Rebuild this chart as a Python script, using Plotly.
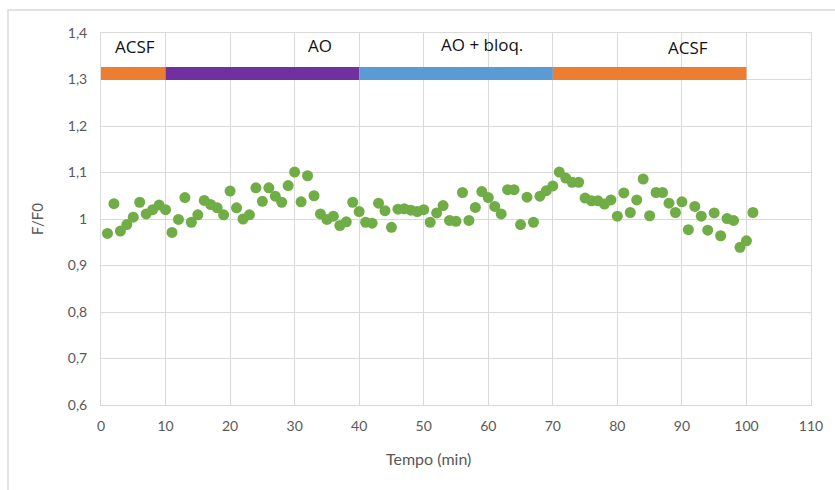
import plotly.graph_objects as go

tempo = list(range(1, 102))
ff0 = [0.969, 1.033, 0.974, 0.988, 1.004, 1.036, 1.011, 1.020, 1.030, 1.020,
       0.971, 0.999, 1.046, 0.993, 1.009, 1.040, 1.031, 1.024, 1.009, 1.060,
       1.024, 1.000, 1.009, 1.067, 1.038, 1.067, 1.049, 1.036, 1.072, 1.101,
       1.037, 1.093, 1.050, 1.011, 0.999, 1.006, 0.986, 0.994, 1.036, 1.016,
       0.993, 0.991, 1.034, 1.018, 0.982, 1.021, 1.022, 1.019, 1.016, 1.020,
       0.993, 1.013, 1.029, 0.997, 0.995, 1.057, 0.997, 1.025, 1.059, 1.046,
       1.027, 1.011, 1.063, 1.063, 0.988, 1.047, 0.993, 1.049, 1.061, 1.071,
       1.101, 1.088, 1.079, 1.079, 1.045, 1.039, 1.039, 1.032, 1.041, 1.006,
       1.056, 1.014, 1.041, 1.086, 1.007, 1.057, 1.057, 1.034, 1.014, 1.037,
       0.977, 1.027, 1.006, 0.976, 1.013, 0.964, 1.001, 0.997, 0.939, 0.953,
       1.014]

phase_labels = ["ACSF", "AO", "AO + bloq.", "ACSF"]
phase_start = [0, 10, 40, 70]
phase_end = [10, 40, 70, 100]
phase_colors = ["#ED7D31", "#7030A0", "#5B9BD5", "#ED7D31"]
phase_bar_y = 1.313
label_x = [5.2, 34, 59, 91]
label_y = [1.371, 1.373, 1.376, 1.369]

font_family = "Lato, 'Open Sans', sans-serif"

fig = go.Figure()

for s, e, c in zip(phase_start, phase_end, phase_colors):
    fig.add_trace(go.Scatter(x=[s, e], y=[phase_bar_y, phase_bar_y], mode="lines",
                             line=dict(color=c, width=13), showlegend=False,
                             hoverinfo="skip"))

fig.add_trace(go.Scatter(x=tempo, y=ff0, mode="markers",
                         marker=dict(color="#70AD47", size=11, line=dict(width=0)),
                         showlegend=False))

for t, x, y in zip(phase_labels, label_x, label_y):
    fig.add_annotation(x=x, y=y, text=t, showarrow=False,
                       font=dict(family="'Open Sans', sans-serif", size=17, color="#111111"))

fig.add_annotation(xref="paper", yref="paper", x=0.4606, y=-0.145, yanchor="middle",
                   xanchor="center", text="Tempo (min)",
                   showarrow=False, font=dict(family=font_family, size=16, color="#595959"))

fig.add_shape(type="rect", xref="paper", yref="paper",
              x0=-0.131, x1=1.05, y0=-0.25, y1=1.062,
              line=dict(color="#D9D9D9", width=1.5), fillcolor="rgba(0,0,0,0)",
              layer="below")

grid = "#D9D9D9"
fig.update_layout(
    width=835, height=490,
    margin=dict(l=101, r=24, t=33, b=85),
    paper_bgcolor="white", plot_bgcolor="white",
    separators=", ",
    font=dict(family=font_family, color="#595959", size=14),
    xaxis=dict(range=[0, 110], dtick=10, tick0=0, showgrid=True, gridcolor=grid,
               gridwidth=1, zeroline=False, showline=True, linecolor=grid, mirror=True,
               ticks="outside", ticklen=8, tickcolor="rgba(0,0,0,0)",
               tickfont=dict(size=14, color="#595959")),
    yaxis=dict(range=[0.6, 1.4], dtick=0.1, tick0=0.6, showgrid=True, gridcolor=grid,
               gridwidth=1, zeroline=False, showline=True, linecolor=grid, mirror=True,
               ticks="outside", ticklen=10, tickcolor="rgba(0,0,0,0)",
               tickfont=dict(size=14, color="#595959"),
               title=dict(text="F/F0", font=dict(size=15, color="#595959"), standoff=20)),
)

fig.write_html("out.html")
